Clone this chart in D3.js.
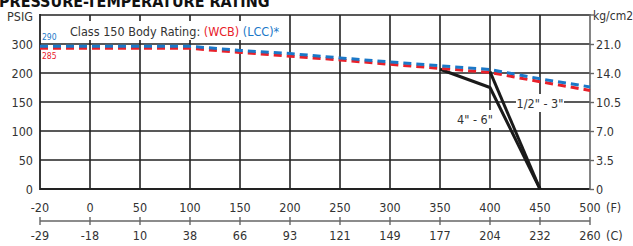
<!DOCTYPE html>
<html>
<head>
<meta charset="utf-8">
<script src="https://cdn.jsdelivr.net/npm/d3@7"></script>
<style>
  body { margin: 0; background: #fff; }
  svg { display: block; font-family: "DejaVu Sans Condensed", "Liberation Sans", sans-serif; }
</style>
</head>
<body>
<svg id="chart" width="633" height="246"></svg>
<script>
// ticks on the F axis (equally spaced, not linear)
var tempF = [-20, 0, 50, 100, 150, 200, 250, 300, 350, 400, 450, 500];
var tempC = [-29, -18, 10, 38, 66, 93, 121, 149, 177, 204, 232, 260];
// psi ticks (also equally spaced)
var psiTicks = [0, 50, 100, 150, 200, 300];
var kgTicks = ["0", "3.5", "7.0", "10.5", "14.0", "21.0"];

// rating curves, psig at each F tick
var wcb = [285, 285, 285, 285, 271, 258, 245, 230, 216, 202, 185, 170];
var lcc = [292, 292, 292, 292, 278, 267, 252, 238, 225, 212, 190, 176];

// seat limits
var small = [[400, 205], [450, 0]];             // 1/2" - 3"
var large = [[350, 213], [400, 175], [450, 0]]; // 4" - 6"

var svg = d3.select("#chart"),
    pl = 40, pr = 590, pt = 15, pb = 189,
    fs = "12.5px";

var x = d3.scaleLinear()
    .domain(tempF)
    .range(tempF.map(function (d, i) { return pl + i * 50; }));

var y = d3.scaleLinear()
    .domain([0, 50, 100, 150, 200, 300, 400])
    .range([189, 160, 131, 102, 73, 44, 15]);

var ink = "#222";

// title, cut off at the top like the original
svg.append("text")
  .attr("x", -1)
  .attr("y", 7)
  .style("font-weight", "bold")
  .style("font-size", "16px")
  .style("fill", "#111")
  .text("PRESSURE-TEMPERATURE RATING");

// grid
var grid = svg.append("g");
grid.selectAll(".v")
  .data(tempF.slice(1, -1))
  .enter().append("line")
  .attr("x1", function (d) { return x(d); })
  .attr("x2", function (d) { return x(d); })
  .attr("y1", pt).attr("y2", pb)
  .attr("stroke", ink).attr("stroke-width", 1.6);

grid.selectAll(".h")
  .data(psiTicks.slice(1).concat([400]))
  .enter().append("line")
  .attr("x1", pl).attr("x2", pr)
  .attr("y1", function (d) { return y(d); })
  .attr("y2", function (d) { return y(d); })
  .attr("stroke", ink).attr("stroke-width", 1.6);

// frame: left, bottom, right
grid.append("line").attr("x1", pl).attr("x2", pl).attr("y1", pt - 1).attr("y2", pb + 1)
  .attr("stroke", ink).attr("stroke-width", 1.8);
grid.append("line").attr("x1", pl).attr("x2", pr).attr("y1", pb).attr("y2", pb)
  .attr("stroke", ink).attr("stroke-width", 1.8);
grid.append("line").attr("x1", pr).attr("x2", pr).attr("y1", pt - 1).attr("y2", pb + 1)
  .attr("stroke", "#666").attr("stroke-width", 1.6);

// left axis labels
svg.append("g").selectAll("text")
  .data(psiTicks)
  .enter().append("text")
  .attr("x", 33)
  .attr("y", function (d) { return y(d); })
  .attr("dy", "0.36em")
  .attr("text-anchor", "end")
  .style("font-size", fs).style("fill", "#333")
  .text(function (d) { return d; });

svg.append("text").attr("x", 33).attr("y", pt + 1).attr("dy", "0.36em")
  .attr("text-anchor", "end").style("font-size", fs).style("fill", "#333")
  .text("PSIG");

// right axis
var yKg = d3.scaleLinear().domain([0, 3.5, 7, 10.5, 14, 21]).range(psiTicks.map(y));
var rightAxis = svg.append("g").attr("transform", "translate(" + pr + ",0)")
  .call(d3.axisRight(yKg).tickValues([0, 3.5, 7, 10.5, 14, 21])
    .tickFormat(function (d, i) { return kgTicks[i]; }).tickSize(4).tickPadding(2));
rightAxis.select(".domain").remove();
rightAxis.selectAll("line").attr("stroke", "#666").attr("stroke-width", 1.4);
rightAxis.selectAll("text").style("font-size", fs).style("fill", "#333")
  .style("font-family", "DejaVu Sans Condensed");

svg.append("line").attr("x1", pr).attr("x2", pr + 4).attr("y1", pt).attr("y2", pt)
  .attr("stroke", "#666").attr("stroke-width", 1.4);
svg.append("text").attr("x", pr + 3).attr("y", pt + 1).attr("dy", "0.36em")
  .style("font-size", "12px").style("fill", "#333").text("kg/cm2");

// bottom F labels
svg.append("g").selectAll("text")
  .data(tempF)
  .enter().append("text")
  .attr("x", function (d) { return x(d); })
  .attr("y", 207).attr("dy", "0.36em")
  .attr("text-anchor", "middle")
  .style("font-size", fs).style("fill", "#333")
  .text(function (d) { return d; });
svg.append("text").attr("x", 606).attr("y", 207).attr("dy", "0.36em")
  .style("font-size", fs).style("fill", "#333").text("(F)");

// C axis
var cAxis = svg.append("g").attr("transform", "translate(0,221)");
cAxis.append("line").attr("x1", pl).attr("x2", pr)
  .attr("stroke", "#666").attr("stroke-width", 1.4);
cAxis.selectAll(".t")
  .data(tempF)
  .enter().append("line")
  .attr("x1", function (d) { return x(d); })
  .attr("x2", function (d) { return x(d); })
  .attr("y1", -4).attr("y2", 4)
  .attr("stroke", "#666").attr("stroke-width", 1.4);
cAxis.selectAll("text")
  .data(tempC)
  .enter().append("text")
  .attr("x", function (d, i) { return x(tempF[i]); })
  .attr("y", 14).attr("dy", "0.36em")
  .attr("text-anchor", "middle")
  .style("font-size", fs).style("fill", "#333")
  .text(function (d) { return d; });
cAxis.append("text").attr("x", 606).attr("y", 14).attr("dy", "0.36em")
  .style("font-size", fs).style("fill", "#333").text("(C)");

// legend with white box
var leg = svg.append("g");
leg.append("rect").attr("x", 67).attr("y", 21).attr("width", 206).attr("height", 19).attr("fill", "#fff");
var lt = leg.append("text").attr("x", 70).attr("y", 31).attr("dy", "0.36em")
  .style("font-size", fs).style("fill", "#333");
lt.append("tspan").text("Class 150 Body Rating: ");
lt.append("tspan").style("fill", "#e8202a").text("(WCB)");
lt.append("tspan").text(" ");
lt.append("tspan").style("fill", "#1b78c8").text("(LCC)*");

// limit lines
var line = d3.line()
  .x(function (d) { return x(d[0]); })
  .y(function (d) { return y(d[1]); });

svg.append("path").datum(large).attr("d", line)
  .attr("fill", "none").attr("stroke", "#1a1a1a").attr("stroke-width", 3).attr("stroke-linejoin", "round");
svg.append("path").datum(small).attr("d", line)
  .attr("fill", "none").attr("stroke", "#1a1a1a").attr("stroke-width", 3);

// limit labels
function boxLabel(txt, cx, cy, w) {
  svg.append("rect").attr("x", cx - w / 2).attr("y", cy - 9).attr("width", w).attr("height", 18).attr("fill", "#fff");
  svg.append("text").attr("x", cx).attr("y", cy).attr("dy", "0.36em")
    .attr("text-anchor", "middle").style("font-size", fs).style("fill", "#333").text(txt);
}
boxLabel("4\" - 6\"", 475, 119, 38);
boxLabel("1/2\" - 3\"", 540, 103, 48);

// rating curves
var curve = d3.line()
  .x(function (d, i) { return x(tempF[i]); })
  .y(function (d) { return y(d); });

svg.append("path").datum(wcb).attr("d", curve)
  .attr("fill", "none").attr("stroke", "#e8202a").attr("stroke-width", 3)
  .attr("stroke-dasharray", "8,5");
svg.append("path").datum(lcc).attr("d", curve)
  .attr("fill", "none").attr("stroke", "#1b78c8").attr("stroke-width", 3)
  .attr("stroke-dasharray", "8,5");

// small value tags
svg.append("text").attr("x", 42).attr("y", 37).attr("dy", "0.36em")
  .style("font-size", "8.5px").style("fill", "#1b78c8").text("290");
svg.append("text").attr("x", 42).attr("y", 56).attr("dy", "0.36em")
  .style("font-size", "8.5px").style("fill", "#e8202a").text("285");
</script>
</body>
</html>
